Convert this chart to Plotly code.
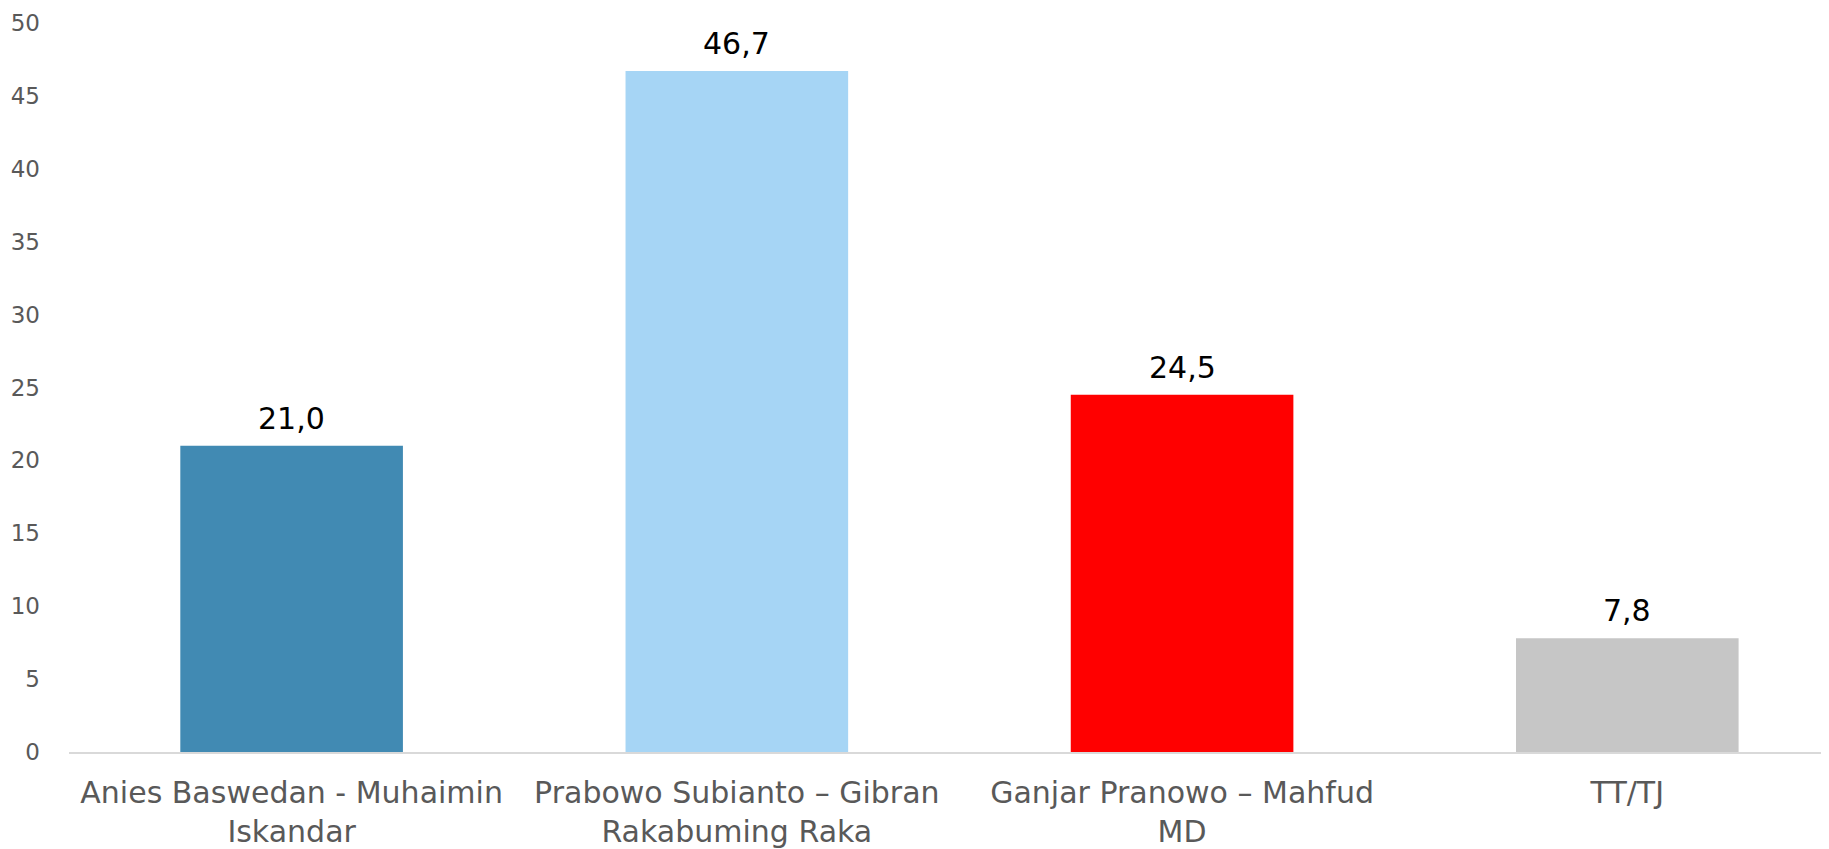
import plotly.graph_objects as go

categories = [
    "Anies Baswedan - Muhaimin<br>Iskandar",
    "Prabowo Subianto – Gibran<br>Rakabuming Raka",
    "Ganjar Pranowo – Mahfud<br>MD",
    "TT/TJ",
]
values = [21.0, 46.7, 24.5, 7.8]
bar_colors = ["#418AB3", "#A6D5F5", "#FF0000", "#C6C6C6"]
y_ticks = [0, 5, 10, 15, 20, 25, 30, 35, 40, 45, 50]

FONT = "DejaVu Sans"

fig = go.Figure()

fig.add_trace(go.Bar(
    x=list(range(len(categories))),
    y=values,
    marker=dict(color=bar_colors, line=dict(width=0)),
    width=0.5,
    hoverinfo="skip",
))

# value labels above the bars, comma as decimal separator
for i, v in enumerate(values):
    fig.add_annotation(
        x=i, y=v,
        text=f"{v:.1f}".replace(".", ","),
        showarrow=False,
        yanchor="bottom",
        yshift=8,
        font=dict(family=FONT, size=30, color="#000000"),
    )

fig.update_layout(
    width=1829,
    height=849,
    margin=dict(l=61, r=0, t=15, b=105),
    paper_bgcolor="white",
    plot_bgcolor="white",
    showlegend=False,
    font=dict(family=FONT, color="#595959"),
    xaxis=dict(
        tickmode="array",
        tickvals=list(range(len(categories))),
        ticktext=categories,
        range=[-0.5, 3.471],
        showgrid=False,
        showline=True,
        linecolor="#D9D9D9",
        linewidth=2,
        ticks="",
        ticklabelstandoff=13,
        tickfont=dict(family=FONT, size=30, color="#595959"),
        zeroline=False,
    ),
    yaxis=dict(
        range=[0, 50],
        tickvals=y_ticks,
        showgrid=False,
        showline=False,
        zeroline=False,
        ticks="",
        ticklabelstandoff=28,
        tickfont=dict(family=FONT, size=23, color="#595959"),
    ),
)

fig.write_html("out.html")
